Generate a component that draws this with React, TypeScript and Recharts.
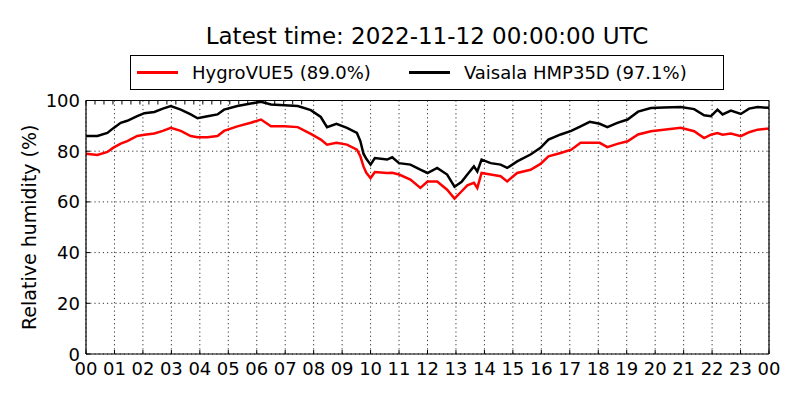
import React from 'react';
import { LineChart, Line, XAxis, YAxis, CartesianGrid, Legend } from 'recharts';

const hours = [
  0.0, 0.4, 0.75, 0.95, 1.22, 1.45, 1.8, 2.05, 2.4, 2.7, 2.98, 3.33, 3.68, 3.92, 4.27, 4.62, 4.85,
  5.32, 5.79, 6.15, 6.5, 6.97, 7.44, 7.9, 8.25, 8.47, 8.8, 9.17, 9.52, 9.64, 9.75, 9.85, 10.0,
  10.15, 10.58, 10.76, 11.0, 11.4, 11.75, 12.0, 12.34, 12.69, 12.95, 13.2, 13.4, 13.63, 13.75,
  13.9, 14.22, 14.57, 14.8, 15.15, 15.62, 15.97, 16.25, 16.68, 17.05, 17.38, 17.7, 18.05, 18.32,
  18.67, 19.03, 19.4, 19.85, 20.3, 20.9, 21.37, 21.72, 21.96, 22.19, 22.37, 22.66, 23.01, 23.3,
  23.6, 24.0,
];

const hygroVUE5 = [
  79, 78.5, 79.7, 81.3, 83, 84, 86, 86.5, 87, 88, 89.2, 88, 86, 85.5, 85.5, 86, 88,
  89.8, 91.2, 92.5, 89.8, 89.8, 89.5, 86.8, 84.6, 82.6, 83.3, 82.6, 80.6, 78, 74, 71.5, 69.4,
  71.8, 71.4, 71.5, 70.8, 68.8, 65.5, 68, 68, 64.8, 61.3, 64.2, 66.5, 67.5, 65.5,
  71.4, 70.8, 70.1, 68.1, 71.4, 72.7, 75, 78, 79.3, 80.6, 83.3, 83.3, 83.3, 81.6,
  82.9, 83.9, 86.6, 87.9, 88.5, 89.2, 87.9, 85.2, 86.5, 87.2, 86.5, 87, 85.9, 87.5,
  88.5, 89,
];

const vaisalaHMP35D = [
  86, 86, 87.2, 89, 91.2, 92, 93.8, 95, 95.5, 96.8, 97.8, 96.4, 94.5, 93, 93.8, 94.5, 96.4,
  97.8, 98.8, 99.5, 98.4, 98.1, 97.8, 96.2, 93.5, 89.5, 90.8, 89.2, 87.2, 84, 79, 77, 74.7,
  77.3, 76.7, 77.6, 75.3, 74.7, 72.7, 71.4, 73.4, 70.8, 66, 67.9, 70.8, 74, 72,
  76.7, 75.3, 74.7, 73.4, 76, 78.7, 81.3, 84.6, 86.6, 88, 89.8, 91.6, 90.8, 89.5,
  91.2, 92.5, 95.6, 97, 97.2, 97.4, 96.6, 94.2, 93.8, 96.4, 94.5, 96, 94.7, 96.8,
  97.4, 97.1,
];

const seriesNames = ['HygroVUE5 (89.0%)', 'Vaisala HMP35D (97.1%)'];
const seriesColors = ['#ff0000', '#000000'];

const xTicks = [0, 1, 2, 3, 4, 5, 6, 7, 8, 9, 10, 11, 12, 13, 14, 15, 16, 17, 18, 19, 20, 21, 22, 23, 24];
const xTickLabels = ['00', '01', '02', '03', '04', '05', '06', '07', '08', '09', '10', '11', '12',
  '13', '14', '15', '16', '17', '18', '19', '20', '21', '22', '23', '00'];
const yTicks = [0, 20, 40, 60, 80, 100];

const titleText = 'Latest time: 2022-11-12 00:00:00 UTC';
const yLabelText = 'Relative humidity (%)';

const data = hours.map((h, i) => ({ h, hygro: hygroVUE5[i], vaisala: vaisalaHMP35D[i] }));

const FONT = '"DejaVu Sans", sans-serif';

function XTick(props: any) {
  const { x, y, payload } = props;
  const idx = xTicks.indexOf(payload.value);
  return (
    <g>
      <line x1={x} x2={x} y1={y} y2={y - 4} stroke="#000" strokeWidth={1} />
      <text x={x} y={y + 21} textAnchor="middle" fontSize={18} fontFamily={FONT} fill="#000">
        {xTickLabels[idx]}
      </text>
    </g>
  );
}

function YTick(props: any) {
  const { x, y, payload } = props;
  return (
    <g>
      <line x1={x} x2={x + 4} y1={y} y2={y} stroke="#000" strokeWidth={1} />
      <text x={x - 6} y={y + 6.5} textAnchor="end" fontSize={18} fontFamily={FONT} fill="#000">
        {payload.value}
      </text>
    </g>
  );
}

function EmptyTick() {
  return <g />;
}

function YLabel(props: any) {
  const vb = props.viewBox || { x: 0, y: 0, width: 86, height: 250 };
  const cx = vb.x + 29;
  const cy = vb.y + vb.height / 2;
  return (
    <text
      x={cx}
      y={cy}
      transform={`rotate(-90 ${cx} ${cy})`}
      textAnchor="middle"
      dominantBaseline="central"
      fontSize={19}
      fontFamily={FONT}
      fill="#000"
    >
      {yLabelText}
    </text>
  );
}

function LegendBox(props: any) {
  const payload = props.payload || [];
  return (
    <div
      style={{
        boxSizing: 'border-box',
        width: 594,
        height: 35,
        border: '1.5px solid #000',
        background: '#fff',
        display: 'flex',
        alignItems: 'center',
        paddingLeft: 6,
        fontFamily: FONT,
        fontSize: 18,
        color: '#000',
        whiteSpace: 'nowrap',
      }}
    >
      {payload.map((entry: any, i: number) => (
        <div key={i} style={{ display: 'flex', alignItems: 'center', marginRight: i === 0 ? 38 : 0 }}>
          <span
            style={{
              display: 'inline-block',
              width: 41,
              height: 2.5,
              background: entry.color,
              marginRight: 14,
            }}
          />
          <span>{entry.value}</span>
        </div>
      ))}
    </div>
  );
}

export default function App() {
  return (
    <div style={{ position: 'absolute', left: 0, top: 0, width: 800, height: 400, background: '#fff' }}>
      <div
        style={{
          position: 'absolute',
          left: 84,
          top: 22.5,
          width: 686,
          textAlign: 'center',
          fontFamily: FONT,
          fontSize: 23,
          color: '#000',
          whiteSpace: 'nowrap',
        }}
      >
        {titleText}
      </div>
      <LineChart
        width={800}
        height={400}
        data={data}
        margin={{ top: 100.5, right: 31, bottom: 16, left: 0 }}
      >
        <CartesianGrid
          stroke="#000"
          strokeDasharray="1.2 3"
          strokeWidth={0.8}
          verticalValues={xTicks}
          horizontalValues={yTicks}
        />
        <XAxis
          dataKey="h"
          type="number"
          domain={[0, 24]}
          ticks={xTicks}
          interval={0}
          height={30}
          tickSize={0}
          tickMargin={0}
          tickLine={false}
          axisLine={{ stroke: '#000', strokeWidth: 1.2 }}
          tick={<XTick />}
          allowDataOverflow
        />
        <XAxis
          xAxisId="top"
          orientation="top"
          type="number"
          domain={[0, 24]}
          ticks={xTicks}
          interval={0}
          height={1}
          mirror
          tickSize={4}
          tickLine={{ stroke: '#000' }}
          axisLine={{ stroke: '#000', strokeWidth: 1.2 }}
          tick={<EmptyTick />}
        />
        <YAxis
          type="number"
          domain={[0, 100]}
          ticks={yTicks}
          interval={0}
          width={86}
          tickSize={0}
          tickMargin={0}
          tickLine={false}
          axisLine={{ stroke: '#000', strokeWidth: 1.2 }}
          tick={<YTick />}
          label={<YLabel />}
          allowDataOverflow
        />
        <YAxis
          yAxisId="right"
          orientation="right"
          type="number"
          domain={[0, 100]}
          ticks={yTicks}
          interval={0}
          width={1}
          mirror
          tickSize={4}
          tickLine={{ stroke: '#000' }}
          axisLine={{ stroke: '#000', strokeWidth: 1.2 }}
          tick={<EmptyTick />}
        />
        <Legend
          layout="horizontal"
          verticalAlign="middle"
          align="center"
          wrapperStyle={{ top: 55, left: 130, width: 594, height: 35 }}
          content={<LegendBox />}
        />
        <Line
          type="linear"
          dataKey="hygro"
          name={seriesNames[0]}
          stroke={seriesColors[0]}
          strokeWidth={2.5}
          dot={false}
          isAnimationActive={false}
        />
        <Line
          type="linear"
          dataKey="vaisala"
          name={seriesNames[1]}
          stroke={seriesColors[1]}
          strokeWidth={2.5}
          dot={false}
          isAnimationActive={false}
        />
      </LineChart>
    </div>
  );
}
